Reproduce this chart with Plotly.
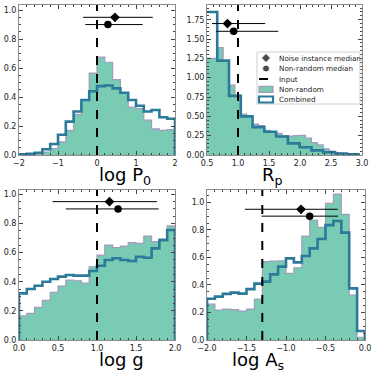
import numpy as np
import plotly.graph_objects as go

# ---- data ----
# panel 1: log P0, 20 bins on [-2, 2]
logp_edges = np.linspace(-2, 2, 21)
logp_nonrandom = [0.003, 0.005, 0.01, 0.02, 0.045, 0.09, 0.17, 0.28, 0.38, 0.565,
                  0.675, 0.64, 0.52, 0.43, 0.33, 0.32, 0.24, 0.18, 0.17, 0.175]
logp_combined = [0.004, 0.008, 0.016, 0.04, 0.076, 0.14, 0.23, 0.30, 0.38, 0.44,
                 0.475, 0.48, 0.46, 0.43, 0.38, 0.34, 0.30, 0.31, 0.26, 0.25]

# panel 2: Rp, finer bins for non-random, coarser for combined
rp_edges_nonrandom = np.linspace(0.475, 2.945, 27)
rp_nonrandom = [1.25, 1.25, 1.39, 1.22, 0.905, 0.77, 0.53, 0.50, 0.40, 0.38, 0.32, 0.30, 0.28,
                0.25, 0.245, 0.25, 0.255, 0.22, 0.16, 0.13, 0.08, 0.05, 0.03, 0.02, 0.01, 0.005]
rp_edges_combined = np.linspace(0.475, 2.945, 14)
rp_combined = [1.85, 1.22, 0.765, 0.50, 0.36, 0.30, 0.24, 0.15, 0.10, 0.06, 0.035, 0.02, 0.01]

# panel 3: log g, 20 bins on [0, 2]
logg_edges = np.linspace(0, 2, 21)
logg_nonrandom = [0.165, 0.183, 0.224, 0.272, 0.327, 0.37, 0.412, 0.407, 0.39, 0.503,
                  0.583, 0.652, 0.634, 0.645, 0.668, 0.663, 0.714, 0.675, 0.693, 0.783]
logg_combined = [0.32, 0.35, 0.373, 0.40, 0.419, 0.435, 0.446, 0.442, 0.442, 0.474,
                 0.51, 0.549, 0.561, 0.549, 0.542, 0.572, 0.565, 0.629, 0.686, 0.755]

# panel 4: log As, 20 bins on [-2, 0]
logas_edges = np.linspace(-2, 0, 21)
logas_nonrandom = [0.26, 0.218, 0.225, 0.22, 0.21, 0.225, 0.298, 0.569, 0.574, 0.576,
                   0.484, 0.525, 0.755, 0.872, 0.818, 0.993, 1.06, 0.913, 0.327, 0.02]
logas_combined = [0.30, 0.315, 0.335, 0.344, 0.337, 0.37, 0.41, 0.424, 0.477, 0.533,
                  0.593, 0.564, 0.61, 0.666, 0.734, 0.835, 0.865, 0.78, 0.375, 0.065]

# medians (value, lower, upper) and input values
noise_median = [(0.46, -0.36, 1.43), (0.83, 0.58, 1.44), (1.16, 0.43, 1.77), (-0.81, -1.52, -0.345)]
nonrandom_median = [(0.28, -0.30, 1.17), (0.93, 0.65, 1.65), (1.27, 0.60, 1.79), (-0.70, -1.31, -0.34)]
median_heights = [[0.95, 0.90], [1.70, 1.60], [0.95, 0.90], [0.95, 0.90]]
input_values = [0.0, 1.0, 1.0, -1.3]

axis_titles = ["log P<sub>0</sub>", "R<sub>p</sub>", "log g", "log A<sub>s</sub>"]
legend_labels = ["Noise instance median", "Non-random median", "Input", "Non-random", "Combined"]

FILL = "#79cbb4"
EDGE = "#a39bbd"
BLUE = "#2b7a99"
FONT = "DejaVu Sans"


def step_xy(edges, vals):
    x = [edges[0]] + list(edges) + [edges[-1]]
    y = [0] + list(vals) + [vals[-1], 0]
    return x, y


panels = [
    (logp_edges, logp_nonrandom, logp_edges, logp_combined),
    (rp_edges_nonrandom, rp_nonrandom, rp_edges_combined, rp_combined),
    (logg_edges, logg_nonrandom, logg_edges, logg_combined),
    (logas_edges, logas_nonrandom, logas_edges, logas_combined),
]

W, H = 374, 370
boxes = [(19, 175, 5, 155), (207, 362, 5, 155), (19, 175, 190, 340), (207, 365, 190, 340)]
xranges = [[-2, 2], [0.5, 3.0], [0, 2], [-2, 0]]
yranges = [[0, 1.035], [0, 1.94], [0, 1.03], [0, 1.09]]
xdticks = [1, 0.5, 0.5, 0.5]
xminor = [0.2, 0.1, 0.1, 0.1]
ydticks = [0.2, 0.25, 0.2, 0.2]
yminor = [0.05, 0.05, 0.05, 0.05]
xfmt = [".0f", ".1f", ".1f", ".1f"]
yfmt = [".1f", ".2f", ".1f", ".1f"]

fig = go.Figure()

for i, (e1, v1, e2, v2) in enumerate(panels):
    xa = "x" if i == 0 else f"x{i + 1}"
    ya = "y" if i == 0 else f"y{i + 1}"
    x, y = step_xy(e1, v1)
    fig.add_trace(go.Scatter(x=x, y=y, xaxis=xa, yaxis=ya, mode="lines", line_shape="hv",
                             fill="tozeroy", fillcolor=FILL, line=dict(color=EDGE, width=1.2),
                             showlegend=False, hoverinfo="skip"))
    x, y = step_xy(e2, v2)
    fig.add_trace(go.Scatter(x=x, y=y, xaxis=xa, yaxis=ya, mode="lines", line_shape="hv",
                             line=dict(color=BLUE, width=2.6), showlegend=False, hoverinfo="skip"))
    for med, h, sym, size in [(noise_median[i], median_heights[i][0], "diamond", 7.5),
                              (nonrandom_median[i], median_heights[i][1], "circle", 7.5)]:
        fig.add_trace(go.Scatter(
            x=[med[0]], y=[h], xaxis=xa, yaxis=ya, mode="markers",
            marker=dict(symbol=sym, size=size, color="black"),
            error_x=dict(type="data", symmetric=False, array=[med[2] - med[0]],
                         arrayminus=[med[0] - med[1]], color="black", thickness=1, width=0),
            showlegend=False, hoverinfo="skip"))
    fig.add_shape(type="line", xref=xa, yref=f"{ya} domain", x0=input_values[i], x1=input_values[i],
                  y0=0, y1=1, line=dict(color="black", width=2, dash="dash"))

    x0, x1, y0, y1 = boxes[i]
    axis_common = dict(showline=True, linecolor="#8c8c8c", linewidth=1, mirror="allticks",
                       ticks="inside", ticklen=4, tickcolor="#444", showgrid=False, zeroline=False,
                       automargin=False, tickfont=dict(family=FONT, size=8, color="#222"))
    fig.layout[f"xaxis{i + 1 if i else ''}"] = dict(
        domain=[x0 / W, x1 / W], anchor=ya, range=xranges[i], dtick=xdticks[i], tick0=0,
        tickformat=xfmt[i], minor=dict(ticks="inside", ticklen=2, dtick=xminor[i], tickcolor="#444"),
        type="linear", **axis_common)
    fig.layout[f"yaxis{i + 1 if i else ''}"] = dict(
        domain=[1 - y1 / H, 1 - y0 / H], anchor=xa, range=yranges[i], dtick=ydticks[i], tick0=0,
        tickformat=yfmt[i], minor=dict(ticks="inside", ticklen=2, dtick=yminor[i], tickcolor="#444"),
        type="linear", **axis_common)
    fig.add_annotation(text=axis_titles[i], xref="paper", yref="paper", x=(x0 + x1) / 2 / W,
                       y=1 - (y1 + 7) / H, showarrow=False, yanchor="top",
                       font=dict(family=FONT, size=18, color="black"))

# ---- hand-drawn legend on a pixel overlay axis (plotly rows are too tall) ----
fig.layout["xaxis5"] = dict(domain=[0, 1], range=[0, W], visible=False, fixedrange=True,
                            anchor="y5", automargin=False)
fig.layout["yaxis5"] = dict(domain=[0, 1], range=[H, 0], visible=False, fixedrange=True,
                            anchor="x5", automargin=False)
lx0, lx1, ly0, ly1 = 257, 360, 52, 104
row_y = [58, 68.5, 79, 89.3, 99.5]
sym_x, text_x = 266, 277
fig.add_shape(type="rect", xref="x5", yref="y5", x0=lx0, x1=lx1, y0=ly0, y1=ly1, layer="below",
              fillcolor="rgba(255,255,255,0.85)", line=dict(color="#d0d0d0", width=1))
fig.add_trace(go.Scatter(x=[sym_x, sym_x], y=row_y[:2], xaxis="x5", yaxis="y5", mode="markers",
                         marker=dict(symbol=["diamond", "circle"], size=[7, 7], color="black"),
                         showlegend=False, hoverinfo="skip"))
fig.add_shape(type="line", xref="x5", yref="y5", x0=259, x1=274, y0=row_y[2], y1=row_y[2],
              line=dict(color="black", width=2, dash="dash"))
fig.add_shape(type="rect", xref="x5", yref="y5", x0=259, x1=273, y0=row_y[3] - 3, y1=row_y[3] + 3,
              fillcolor=FILL, line=dict(color=EDGE, width=1.2))
fig.add_shape(type="rect", xref="x5", yref="y5", x0=259, x1=273, y0=row_y[4] - 3, y1=row_y[4] + 3,
              fillcolor="rgba(0,0,0,0)", line=dict(color=BLUE, width=2.2))
for label, ry in zip(legend_labels, row_y):
    fig.add_annotation(text=label, xref="x5", yref="y5", x=text_x, y=ry, xanchor="left",
                       yanchor="middle", showarrow=False,
                       font=dict(family=FONT, size=7.2, color="#222"))

fig.update_layout(
    width=W, height=H,
    margin=dict(l=0, r=0, t=0, b=0, autoexpand=False),
    paper_bgcolor="white", plot_bgcolor="rgba(0,0,0,0)",
    font=dict(family=FONT, size=8, color="#222"),
    showlegend=False,
)

# the page body has a default 8px margin; drop it so the figure sits at the window origin
fig.write_html("out.html", config={"displayModeBar": False},
               post_script="document.body.style.margin='0px';")
